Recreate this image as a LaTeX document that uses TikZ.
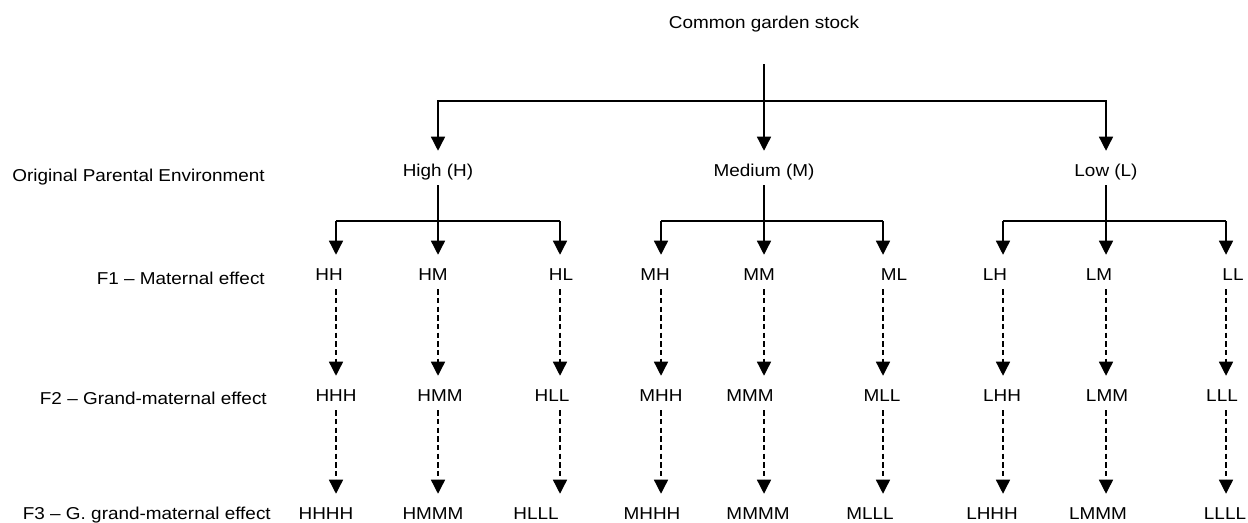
\documentclass[tikz,border=0pt]{standalone}
\usepackage{fontspec}
\setmainfont{Liberation Sans}[FakeStretch=1.1]
\usetikzlibrary{arrows.meta}
\begin{document}
\begin{tikzpicture}[x=0.75pt,y=-0.75pt,
  lbl/.style={inner sep=0pt, font=\fontsize{12.9pt}{15pt}\selectfont},
  gen/.style={lbl, anchor=base, text height=18.75pt, text depth=6.75pt},
  side/.style={lbl, anchor=base east},
  conn/.style={line width=1pt},
  arr/.style={conn, -{Triangle[length=10.5pt,width=10.5pt]}},
  darr/.style={arr, dash pattern=on 4pt off 2.5pt}]
\useasboundingbox (0,0) rectangle (1248,522);

% title and first level
\node[lbl, anchor=base] (title) at (764,28) {Common garden stock};
\node[gen] (H) at (438,176) {High (H)};
\node[gen] (M) at (764,176) {Medium (M)};
\node[gen] (L) at (1106,176) {Low (L)};
\coordinate (bus0) at (764,101);
\draw[arr] ([yshift=-27pt]title.base) -- (M.north);
\draw[arr] (bus0) -| (H.north);
\draw[arr] (bus0) -| (L.north);

% side labels
\node[side] (lab0) at (265,181) {Original Parental Environment};
\node[side] (lab1) at (265,284) {F1 – Maternal effect};
\node[side] (lab2) at (267,404) {F2 – Grand-maternal effect};
\node[side] (lab3) at (271,519) {F3 – G. grand-maternal effect};

% bus points
\foreach \n/\x in {cH1/336, cH2/438, cH3/560, cM1/661, cM2/764, cM3/883, cL1/1003, cL2/1106, cL3/1226}
  \coordinate (\n) at (\x,221);

% F1
\foreach \n/\x in {HH/329, HM/433, HL/561, MH/655, MM/759, ML/894, LH/995, LM/1099, LL/1233}
  \node[gen] (\n) at (\x,280) {\n};
% F2
\foreach \n/\x in {HHH/336, HMM/440, HLL/552, MHH/661, MMM/750, MLL/882, LHH/1002, LMM/1107, LLL/1222}
  \node[gen] (\n) at (\x,401) {\n};
% F3
\foreach \n/\x in {HHHH/326, HMMM/433, HLLL/536, MHHH/652, MMMM/758, MLLL/870, LHHH/992, LMMM/1098, LLLL/1225}
  \node[gen] (\n) at (\x,519) {\n};

% branching to F1
\foreach \g in {H,M,L} {
  \draw[conn] (\g.south) -- (c\g2);
  \draw[conn] (c\g1) -- (c\g3);
}
\foreach \c/\a/\b/\d in {cH1/HH/HHH/HHHH, cH2/HM/HMM/HMMM, cH3/HL/HLL/HLLL,
                         cM1/MH/MHH/MHHH, cM2/MM/MMM/MMMM, cM3/ML/MLL/MLLL,
                         cL1/LH/LHH/LHHH, cL2/LM/LMM/LMMM, cL3/LL/LLL/LLLL} {
  \draw[arr] (\c) -- (\c |- \a.north);
  \draw[darr] (\c |- \a.south) -- (\c |- \b.north);
  \draw[darr] (\c |- \b.south) -- (\c |- \d.north);
}
\end{tikzpicture}
\end{document}
